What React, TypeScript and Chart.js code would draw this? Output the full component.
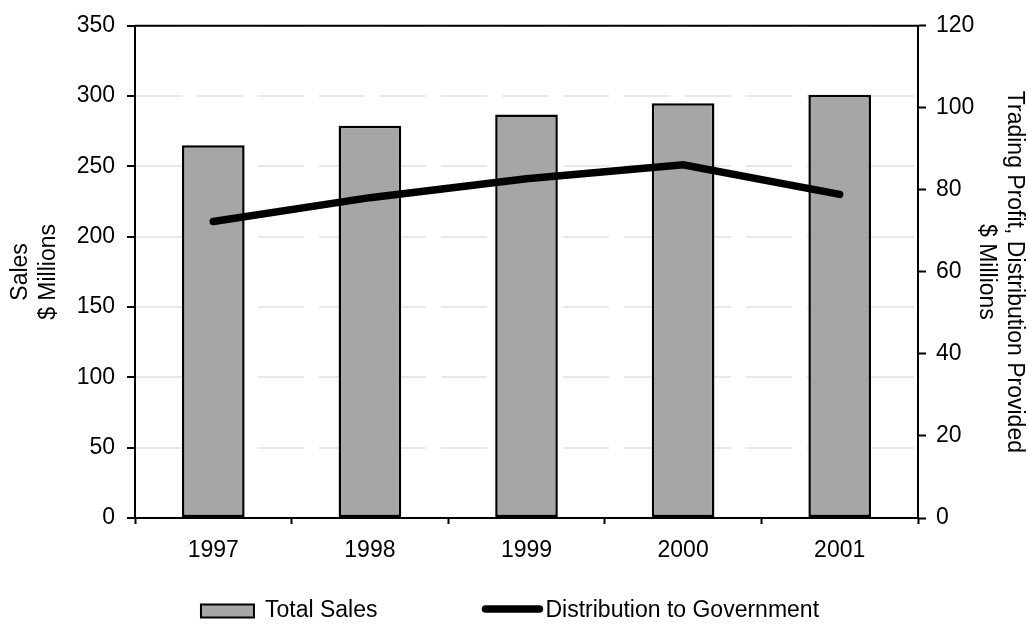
import React, { useEffect, useRef } from "react";
import { Chart, registerables } from "chart.js";

Chart.register(...registerables);

const categories = ["1997", "1998", "1999", "2000", "2001"];
const totalSales = [265, 279, 287, 295, 301];
const distribution = [72.3, 78.1, 82.7, 86.1, 78.9];
const salesAxis = { min: 0, max: 350, step: 50 };
const profitAxis = { min: 0, max: 120, step: 20 };
const seriesNames = ["Total Sales", "Distribution to Government"];
const leftTitle = ["Sales", "$ Millions"];
const rightTitle = ["Trading Profit, Distribution Provided", "$ Millions"];

const FONT = "'Liberation Sans', Arial, Helvetica, sans-serif";
const FS = 23;

const frameAndLegend = {
  id: "frameAndLegend",
  afterDraw(chart: any) {
    const { ctx, chartArea } = chart;
    ctx.save();
    // top border of plot area
    ctx.strokeStyle = "#000";
    ctx.lineWidth = 2;
    ctx.beginPath();
    ctx.moveTo(chartArea.left, chartArea.top);
    ctx.lineTo(chartArea.right, chartArea.top);
    ctx.stroke();

    // legend
    ctx.font = `${FS}px ${FONT}`;
    ctx.textBaseline = "middle";
    ctx.textAlign = "left";
    const ds = chart.data.datasets;
    const boxW = 53, boxH = 13, lineW = 62, gapBox = 11, gapLine = 2, itemGap = 104;
    const t1 = ctx.measureText(ds[0].label).width;
    const t2 = ctx.measureText(ds[1].label).width;
    const total = boxW + gapBox + t1 + itemGap + lineW + gapLine + t2;
    let x = (chart.width - total) / 2 - 4;
    const cy = chartArea.bottom + 93;
    // bar item
    ctx.fillStyle = ds[0].backgroundColor;
    ctx.fillRect(x, cy - boxH / 2, boxW, boxH);
    ctx.strokeStyle = "#000";
    ctx.lineWidth = 2;
    ctx.strokeRect(x, cy - boxH / 2, boxW, boxH);
    x += boxW + gapBox;
    ctx.fillStyle = "#000";
    ctx.fillText(ds[0].label, x, cy);
    x += t1 + itemGap;
    // line item
    ctx.strokeStyle = ds[1].borderColor;
    ctx.lineWidth = 7.5;
    ctx.lineCap = "round";
    ctx.beginPath();
    ctx.moveTo(x + 4, cy - 2);
    ctx.lineTo(x + lineW - 4, cy - 2);
    ctx.stroke();
    x += lineW + gapLine;
    ctx.fillStyle = "#000";
    ctx.fillText(ds[1].label, x, cy);
    ctx.restore();
  },
};

export default function App() {
  const canvasRef = useRef<HTMLCanvasElement | null>(null);

  useEffect(() => {
    if (!canvasRef.current) return;
    const chart = new Chart(canvasRef.current, {
      type: "bar",
      data: {
        labels: categories,
        datasets: [
          {
            type: "bar",
            label: seriesNames[0],
            data: totalSales,
            backgroundColor: "#a6a6a6",
            borderColor: "#000",
            borderWidth: 2.5,
            borderSkipped: false,
            barPercentage: 0.4,
            categoryPercentage: 1,
            yAxisID: "y",
            order: 1,
          },
          {
            type: "line",
            label: seriesNames[1],
            data: distribution,
            borderColor: "#000",
            backgroundColor: "#000",
            borderWidth: 7.5,
            pointRadius: 0,
            tension: 0,
            borderJoinStyle: "miter",
            borderCapStyle: "round",
            yAxisID: "y1",
            order: 0,
          },
        ] as any,
      },
      options: {
        responsive: false,
        animation: false,
        color: "#000",
        layout: { padding: { top: 22, bottom: 57, left: 0, right: 0 } },
        plugins: {
          legend: { display: false },
          tooltip: { enabled: false },
        },
        scales: {
          x: {
            offset: true,
            grid: {
              offset: true,
              drawOnChartArea: false,
              drawTicks: true,
              tickLength: 6,
              tickColor: "#000",
              tickWidth: 2,
            },
            border: { color: "#000", width: 2 },
            ticks: { color: "#000", padding: 13, font: { family: FONT, size: FS } },
            afterFit: (s: any) => {
              s.height = 50;
            },
          },
          y: {
            position: "left",
            min: salesAxis.min,
            max: salesAxis.max,
            ticks: {
              stepSize: salesAxis.step,
              color: "#000",
              padding: 12,
              font: { family: FONT, size: FS },
            },
            grid: {
              color: "#e8e8e8",
              lineWidth: 2,
              drawTicks: true,
              tickLength: 8,
              tickColor: "#000",
              tickWidth: 2,
              tickBorderDash: [],
            },
            border: { color: "#000", width: 2, dash: [46, 15] },
            title: {
              display: true,
              text: leftTitle,
              color: "#000",
              font: { family: FONT, size: FS, lineHeight: 1.22 },
              padding: { top: 7, bottom: 0 },
            },
            afterFit: (s: any) => {
              s.width = 135;
            },
          },
          y1: {
            position: "right",
            min: profitAxis.min,
            max: profitAxis.max,
            ticks: {
              stepSize: profitAxis.step,
              color: "#000",
              padding: 10,
              font: { family: FONT, size: FS },
            },
            grid: {
              drawOnChartArea: false,
              drawTicks: true,
              tickLength: 8,
              tickColor: "#000",
              tickWidth: 2,
            },
            border: { color: "#000", width: 2 },
            title: {
              display: true,
              text: rightTitle,
              color: "#000",
              font: { family: FONT, size: FS, lineHeight: 1.22 },
              padding: { top: 0, bottom: 0 },
            },
            afterFit: (s: any) => {
              s.width = 110;
            },
          },
        },
      } as any,
      plugins: [frameAndLegend],
    });
    return () => chart.destroy();
  }, []);

  return (
    <div style={{ position: "absolute", left: 0, top: 0, width: 1028, height: 625, background: "#fff" }}>
      <canvas ref={canvasRef} width={1028} height={625} style={{ display: "block" }} />
    </div>
  );
}
